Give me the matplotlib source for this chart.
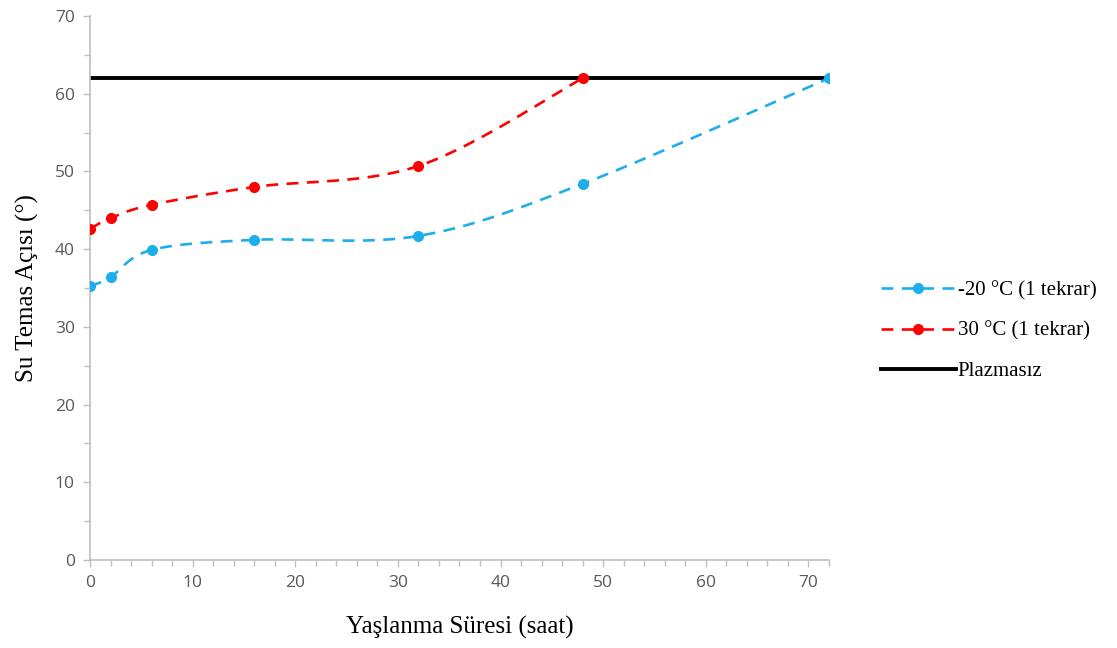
import numpy as np
import matplotlib
matplotlib.use("Agg")
import matplotlib.pyplot as plt
from matplotlib.lines import Line2D

# Data
x_cold = [0, 2, 6, 16, 32, 48, 72]
y_cold = [35.2, 36.4, 39.9, 41.2, 41.7, 48.4, 62.0]
x_warm = [0, 2, 6, 16, 32, 48]
y_warm = [42.6, 44.0, 45.7, 48.0, 50.7, 62.0]
x_ref = [0, 72]
y_ref = [62.0, 62.0]
labels = ["-20 °C (1 tekrar)", "30 °C (1 tekrar)", "Plazmasız"]


def smooth(xs, ys, n=40):
    xs = np.asarray(xs, float); ys = np.asarray(ys, float)
    px = np.concatenate([[xs[0]], xs, [xs[-1]]])
    py = np.concatenate([[ys[0]], ys, [ys[-1]]])
    ox, oy = [], []
    t = np.linspace(0, 1, n)
    for i in range(1, len(px) - 2):
        p0 = np.array([px[i], py[i]]); p3 = np.array([px[i + 1], py[i + 1]])
        p1 = p0 + (np.array([px[i + 1], py[i + 1]]) - np.array([px[i - 1], py[i - 1]])) / 6
        p2 = p3 - (np.array([px[i + 2], py[i + 2]]) - np.array([px[i], py[i]])) / 6
        b = ((1 - t) ** 3)[:, None] * p0 + (3 * (1 - t) ** 2 * t)[:, None] * p1 + \
            (3 * (1 - t) * t ** 2)[:, None] * p2 + (t ** 3)[:, None] * p3
        ox.extend(b[:, 0]); oy.extend(b[:, 1])
    return np.array(ox), np.array(oy)


blue = "#1FAEEB"
red = "#FF0000"
gray = "#BFBFBF"
tickc = "#595959"

fig = plt.figure(figsize=(11.17, 6.48), dpi=100)
ax = fig.add_axes([90 / 1117, 1 - 560 / 648, (829 - 90) / 1117, (560 - 16) / 648])

dash = (0, (4.5, 3.2))
ax.plot(x_ref, y_ref, color="black", lw=2.8, solid_capstyle="butt", zorder=2)
sx, sy = smooth(x_cold, y_cold)
ax.plot(sx, sy, color=blue, lw=1.9, linestyle=dash, zorder=3)
ax.plot(x_cold, y_cold, "o", color=blue, ms=7, zorder=4)
sx, sy = smooth(x_warm, y_warm)
ax.plot(sx, sy, color=red, lw=1.9, linestyle=dash, zorder=3)
ax.plot(x_warm, y_warm, "o", color=red, ms=7, zorder=4)

ax.set_xlim(0, 72)
ax.set_ylim(0, 70)
ax.set_xticks(np.arange(0, 71, 10))
ax.set_xticks(np.arange(0, 73, 2), minor=True)
ax.set_yticks(np.arange(0, 71, 10))
ax.set_yticks(np.arange(0, 71, 5), minor=True)
for s in ["top", "right"]:
    ax.spines[s].set_visible(False)
for s in ["left", "bottom"]:
    ax.spines[s].set_color(gray)
    ax.spines[s].set_linewidth(1.2)
ax.tick_params(which="both", color=gray, width=1.0, direction="out")
ax.tick_params(which="major", length=5, labelsize=12.5, labelcolor=tickc, pad=6)
ax.tick_params(which="minor", length=4)
for lab in ax.get_xticklabels() + ax.get_yticklabels():
    lab.set_family("Open Sans")

ax.set_xlabel("Yaşlanma Süresi (saat)", family="Liberation Serif", fontsize=18, labelpad=18)
ax.set_ylabel("Su Temas Açısı (°)", family="Liberation Serif", fontsize=18, labelpad=11)

handles = [
    Line2D([], [], color=blue, lw=1.9, linestyle=dash, marker="o", ms=7),
    Line2D([], [], color=red, lw=1.9, linestyle=dash, marker="o", ms=7),
    Line2D([], [], color="black", lw=2.8),
]
fig.legend(handles, labels, loc="center left", bbox_to_anchor=(862 / 1117, 1 - 331 / 648),
           frameon=False, prop={"family": "Liberation Serif", "size": 15},
           handlelength=3.6, handletextpad=0.1, labelspacing=1.0)

fig.savefig("out.png", dpi=100)
